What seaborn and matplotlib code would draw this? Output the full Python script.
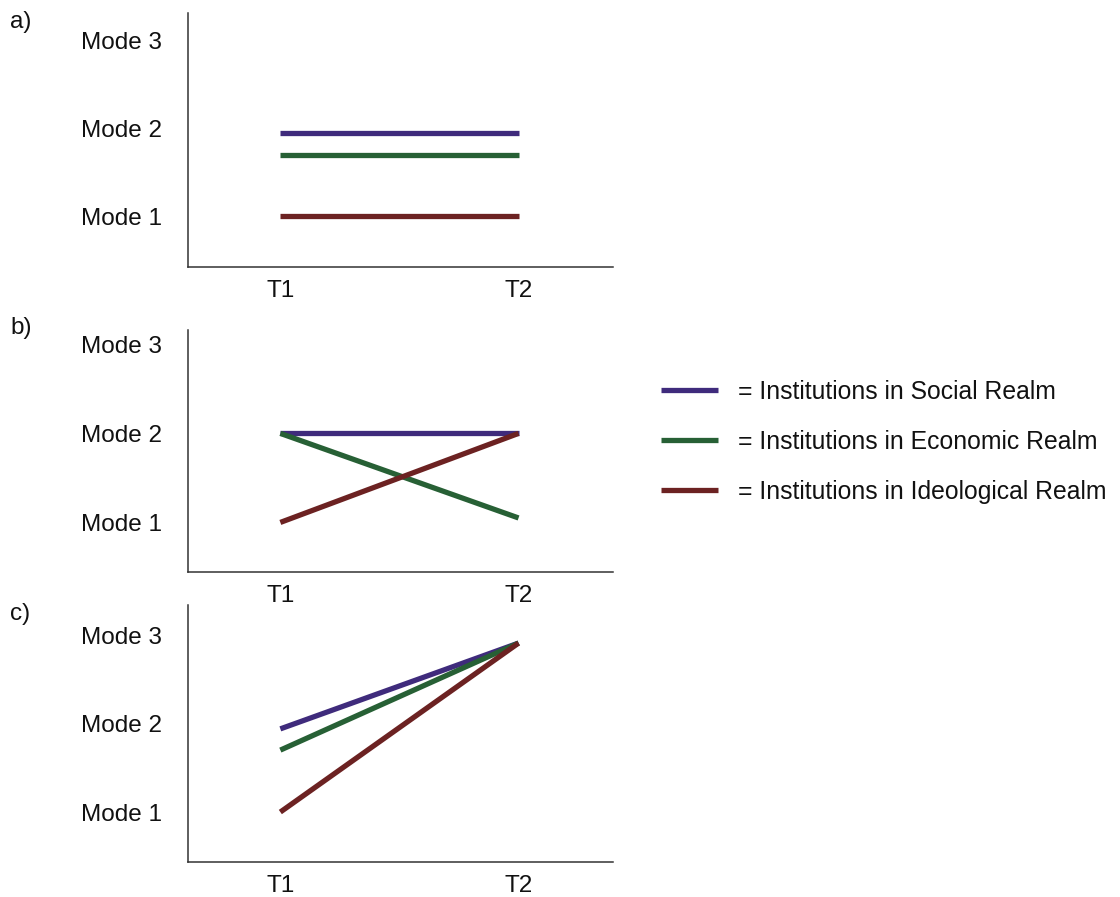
import numpy as np
import pandas as pd
import matplotlib
matplotlib.use("Agg")
import matplotlib.pyplot as plt
import seaborn as sns

# values (in "Mode" units)
times = ["T1", "T2"]
realms = ["Social", "Economic", "Ideological"]
legend_labels = ["= Institutions in Social Realm",
                 "= Institutions in Economic Realm",
                 "= Institutions in Ideological Realm"]
mode_labels = ["Mode 1", "Mode 2", "Mode 3"]
panel_names = ["a)", "b)", "c)"]

panel_a = {"Social": [1.95, 1.95], "Economic": [1.7, 1.7], "Ideological": [1.0, 1.0]}
panel_b = {"Social": [2.0, 2.0], "Economic": [2.0, 1.05], "Ideological": [1.0, 2.0]}
panel_c = {"Social": [1.94, 2.91], "Economic": [1.7, 2.91], "Ideological": [1.0, 2.91]}
panels = [panel_a, panel_b, panel_c]

colors = ["#3f2b7c", "#276035", "#6c2222"]

sns.set_theme(style="white")
plt.rcParams["font.family"] = ["Liberation Sans", "DejaVu Sans"]

fig = plt.figure(figsize=(11.2, 8.97), dpi=100)

# axes boxes (figure fraction)
boxes = [[0.168, 0.702, 0.379, 0.284],
         [0.168, 0.362, 0.379, 0.270],
         [0.168, 0.039, 0.379, 0.2865]]
ylims = [(0.42, 3.32), (0.44, 3.16), (0.435, 3.34)]
label_y = [0.976, 0.634, 0.316]

for i, data in enumerate(panels):
    ax = fig.add_axes(boxes[i])
    rows = []
    for r in realms:
        for t, v in zip(times, data[r]):
            rows.append({"time": times.index(t), "mode": v, "realm": r})
    df = pd.DataFrame(rows)
    sns.lineplot(data=df, x="time", y="mode", hue="realm", hue_order=realms,
                 palette=colors, linewidth=3.8, legend=False, ax=ax,
                 solid_capstyle="butt")
    ax.set_xlim(-0.387, 1.395)
    ax.set_ylim(*ylims[i])
    ax.set_xticks([0, 1])
    ax.set_xticklabels(times)
    ax.set_yticks([1, 2, 3])
    ax.set_yticklabels(mode_labels)
    ax.set_xlabel("")
    ax.set_ylabel("")
    ax.tick_params(axis="both", length=0, labelsize=17.5, colors="#111111")
    ax.tick_params(axis="y", pad=19)
    ax.tick_params(axis="x", pad=9)
    sns.despine(ax=ax)
    for s in ["left", "bottom"]:
        ax.spines[s].set_color("#333333")
        ax.spines[s].set_linewidth(1.1)
    fig.text(0.009, label_y[i], panel_names[i], fontsize=17.5, color="#111111",
             va="center", ha="left")
    if i == 1:
        handles = ax.get_lines()[:3]

fig.legend(handles, legend_labels, loc="center left",
           bbox_to_anchor=(0.5705, 0.5075), frameon=False, fontsize=17.8,
           handlelength=2.3, handletextpad=0.8, labelspacing=1.05,
           labelcolor="#111111")

fig.savefig("out.png", dpi=100, facecolor="white")
